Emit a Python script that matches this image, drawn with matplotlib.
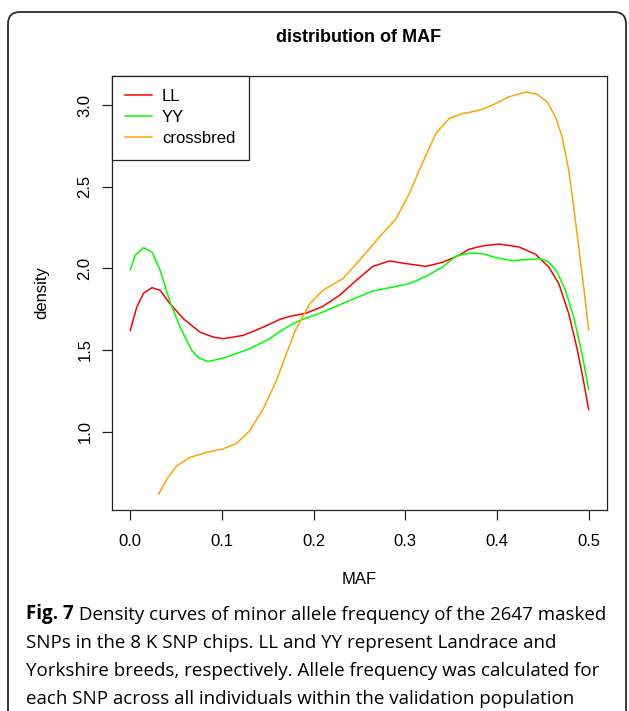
import numpy as np
import matplotlib
matplotlib.use('Agg')
import matplotlib.pyplot as plt
from matplotlib.patches import FancyBboxPatch
from matplotlib.transforms import IdentityTransform

# MAF density curves (read off the kernel density estimates)
ll_x = [0.000, 0.007, 0.0145, 0.0236, 0.0326, 0.0427, 0.058, 0.076, 0.090, 0.1014,
        0.123, 0.145, 0.163, 0.174, 0.192, 0.210, 0.228, 0.2464, 0.2645, 0.2826, 0.3007,
        0.3225, 0.3406, 0.3587, 0.3696, 0.384, 0.4022, 0.424, 0.4421, 0.4565, 0.4674,
        0.4783, 0.4873, 0.4937, 0.500]
ll_y = [1.620, 1.763, 1.848, 1.882, 1.865, 1.787, 1.691, 1.609, 1.580, 1.569,
        1.589, 1.640, 1.687, 1.706, 1.726, 1.767, 1.834, 1.926, 2.012, 2.045, 2.029,
        2.012, 2.037, 2.080, 2.117, 2.137, 2.149, 2.131, 2.086, 2.008, 1.906,
        1.722, 1.510, 1.330, 1.135]

yy_x = [0.000, 0.0054, 0.0145, 0.0236, 0.0326, 0.0427, 0.0543, 0.067, 0.075, 0.0851,
        0.105, 0.130, 0.152, 0.163, 0.174, 0.185, 0.210, 0.2355, 0.2645, 0.286, 0.304,
        0.3225, 0.340, 0.355, 0.3696, 0.384, 0.3986, 0.4167, 0.4355, 0.4475, 0.4565,
        0.4656, 0.4747, 0.4837, 0.4928, 0.500]
yy_y = [1.992, 2.080, 2.127, 2.100, 1.988, 1.804, 1.640, 1.497, 1.450, 1.429,
        1.456, 1.507, 1.569, 1.613, 1.650, 1.681, 1.732, 1.794, 1.861, 1.885, 1.906,
        1.951, 2.006, 2.074, 2.094, 2.090, 2.066, 2.047, 2.055, 2.059, 2.039,
        1.977, 1.865, 1.701, 1.477, 1.256]

cb_x = [0.031, 0.040, 0.0507, 0.0652, 0.0833, 0.1014, 0.116, 0.1304, 0.1449, 0.1594,
        0.1703, 0.180, 0.1957, 0.210, 0.232, 0.250, 0.2717, 0.290, 0.3043, 0.3152,
        0.3333, 0.3478, 0.3623, 0.3696, 0.384, 0.3986, 0.413, 0.4312, 0.4438, 0.4547,
        0.4638, 0.471, 0.4783, 0.4837, 0.4891, 0.4946, 0.500]
cb_y = [0.618, 0.710, 0.791, 0.842, 0.873, 0.894, 0.928, 1.006, 1.139, 1.313,
        1.477, 1.620, 1.783, 1.865, 1.937, 2.049, 2.192, 2.305, 2.458, 2.601,
        2.826, 2.918, 2.949, 2.955, 2.974, 3.010, 3.051, 3.080, 3.067, 3.020,
        2.928, 2.806, 2.601, 2.376, 2.131, 1.885, 1.624]

series_names = ['LL', 'YY', 'crossbred']
series_colors = ['#FF0000', '#00FF00', '#FFA500']
x_ticks = [0.0, 0.1, 0.2, 0.3, 0.4, 0.5]
y_ticks = [1.0, 1.5, 2.0, 2.5, 3.0]

caption_lead = 'Fig. 7'
caption_lines = [
    ' Density curves of minor allele frequency of the 2647 masked',
    'SNPs in the 8 K SNP chips. LL and YY represent Landrace and',
    'Yorkshire breeds, respectively. Allele frequency was calculated for',
    'each SNP across all individuals within the validation population',
]

W, H = 629, 711
fig = plt.figure(figsize=(W / 100, H / 100), dpi=100)
fig.patch.set_facecolor('white')

# rounded panel border (open at the bottom edge)
border = FancyBboxPatch((8, -40), 618, H - 12 + 40,
                        boxstyle='round,pad=0,rounding_size=12',
                        transform=IdentityTransform(), fill=False,
                        edgecolor='#2a2a2a', linewidth=1.3)
fig.add_artist(border)

ax = fig.add_axes([112 / W, 1 - 510 / H, (607 - 112) / W, (510 - 76) / H])
rfont = 'Liberation Sans'

for xs, ys, name, col in zip([ll_x, yy_x, cb_x], [ll_y, yy_y, cb_y],
                             series_names, series_colors):
    ax.plot(xs, ys, color=col, lw=1.1, label=name)

# R-style 4% range extension
all_y = ll_y + yy_y + cb_y
ymin, ymax = min(all_y), max(all_y)
pad = 0.04 * (ymax - ymin)
ax.set_ylim(ymin - pad, ymax + pad)
ax.set_xlim(-0.02, 0.52)

ax.set_xticks(x_ticks)
ax.set_xticklabels([f'{v:.1f}' for v in x_ticks], fontfamily=rfont, fontsize=12)
ax.set_yticks(y_ticks)
ax.set_yticklabels([f'{v:.1f}' for v in y_ticks], fontfamily=rfont, fontsize=12,
                   rotation=90, va='center')
ax.tick_params(direction='out', length=7, width=0.9, pad=10, color='#222222')
ax.tick_params(axis='y', pad=7)
for sp in ax.spines.values():
    sp.set_linewidth(0.9)
    sp.set_color('#222222')

ax.set_xlabel('MAF', fontfamily=rfont, fontsize=12, va='center')
ax.xaxis.set_label_coords(0.5, -(580 - 510) / 434)
ax.set_ylabel('density', fontfamily=rfont, fontsize=12, va='center')
ax.yaxis.set_label_coords(-(112 - 42) / 495, 0.5)

leg = ax.legend(loc='upper left', bbox_to_anchor=(0, 1), borderaxespad=0,
                fancybox=False, edgecolor='#222222', framealpha=1,
                prop={'family': rfont, 'size': 12}, handlelength=1.6,
                handletextpad=0.6, labelspacing=0.36, borderpad=0.8)
leg.get_frame().set_linewidth(0.9)

fig.text(359 / W, 1 - 37 / H, 'distribution of MAF', fontfamily=rfont,
         fontweight='bold', fontsize=13, ha='center', va='center')

# caption below the plot, bold figure number followed by regular text
cap_font = 'Open Sans'
cap_size = 13.5
line_y = [619, 647.5, 676, 704.5]
lead = fig.text(26 / W, 1 - line_y[0] / H, caption_lead, fontfamily=cap_font,
                fontweight='bold', fontsize=cap_size, ha='left', va='baseline')
rest = plt.Annotation(caption_lines[0], xy=(1, 0), xycoords=lead,
                      va='bottom', ha='left', fontfamily=cap_font,
                      fontsize=cap_size)
fig.add_artist(rest)
for txt, yy in zip(caption_lines[1:], line_y[1:]):
    fig.text(26 / W, 1 - yy / H, txt, fontfamily=cap_font, fontsize=cap_size,
             ha='left', va='baseline')

fig.savefig('out.png', dpi=100)
